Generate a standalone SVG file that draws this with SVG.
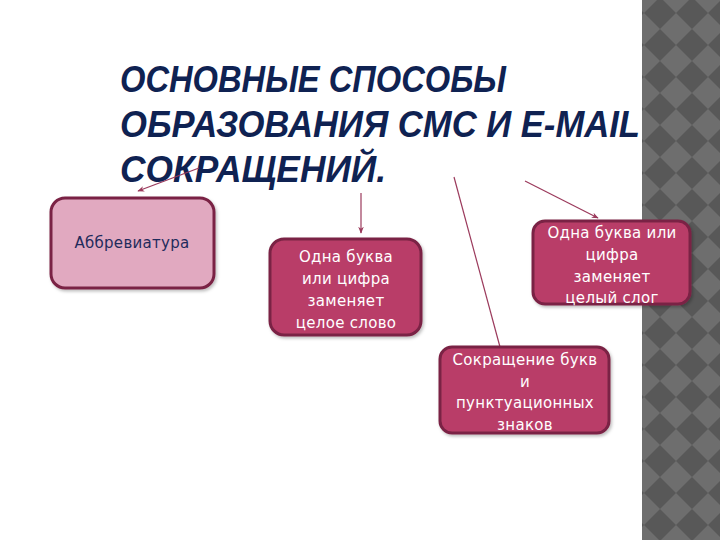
<svg xmlns="http://www.w3.org/2000/svg" width="720" height="540" viewBox="0 0 720 540">
<defs>
<pattern id="chk" patternUnits="userSpaceOnUse" x="644" y="-3" width="32" height="32">
<rect width="32" height="32" fill="#6e6e6e"/>
<path d="M16 0 L32 16 L16 32 L0 16 Z" fill="#585858"/>
</pattern>
<marker id="ah" viewBox="0 0 10 10" refX="9" refY="5" markerWidth="7" markerHeight="7" orient="auto" markerUnits="userSpaceOnUse">
<path d="M0 1 L10 5 L0 9 L3 5 Z" fill="#9b3a5c"/>
</marker>
<filter id="sh" x="-10%" y="-10%" width="130%" height="130%">
<feDropShadow dx="1.5" dy="2" stdDeviation="1.5" flood-color="#000" flood-opacity="0.25"/>
</filter>
</defs>
<style>
.title{font-family:"Liberation Sans",Arial,sans-serif;font-weight:bold;font-style:italic;font-size:37px;fill:#0f2252}
.box{stroke:#7a2444;stroke-width:3;filter:url(#sh)}
.dark{fill:#b93c68}
.light{fill:#e1a9c0}
.wt{font-family:"DejaVu Sans",sans-serif;font-size:15px;fill:#ffffff;text-anchor:middle;letter-spacing:0.3px}
.nt{font-family:"DejaVu Sans",sans-serif;font-size:15px;fill:#1f2b5c;text-anchor:middle;letter-spacing:0.3px}
.conn{stroke:#9b3a5c;stroke-width:1.2;fill:none}
</style>
<rect width="720" height="540" fill="#ffffff"/>
<rect x="642" y="0" width="78" height="540" fill="url(#chk)"/>
<g id="title">
<text class="title" x="120" y="92" textLength="386" lengthAdjust="spacingAndGlyphs">ОСНОВНЫЕ СПОСОБЫ</text>
<text class="title" x="120" y="137" textLength="520" lengthAdjust="spacingAndGlyphs">ОБРАЗОВАНИЯ СМС И E-MAIL</text>
<text class="title" x="120" y="182" textLength="266" lengthAdjust="spacingAndGlyphs">СОКРАЩЕНИЙ.</text>
</g>
<g id="connectors">
<line class="conn" x1="199" y1="168" x2="138" y2="191" marker-end="url(#ah)"/>
<line class="conn" x1="361" y1="193" x2="361" y2="233" marker-end="url(#ah)"/>
<line class="conn" x1="454" y1="177" x2="500" y2="347"/>
<line class="conn" x1="525" y1="181" x2="598" y2="218" marker-end="url(#ah)"/>
</g>
<g id="node-abbr">
<rect class="box light" x="51" y="198" width="163" height="90" rx="14"/>
<text class="nt" x="132" y="248">Аббревиатура</text>
</g>
<g id="node-word">
<rect class="box dark" x="270" y="239" width="151" height="96" rx="14"/>
<text class="wt" x="346" y="262">Одна буква</text>
<text class="wt" x="346" y="284">или цифра</text>
<text class="wt" x="346" y="306">заменяет</text>
<text class="wt" x="346" y="328">целое слово</text>
</g>
<g id="node-syllable">
<rect class="box dark" x="533" y="221" width="157" height="83" rx="12"/>
<text class="wt" x="612" y="238">Одна буква или</text>
<text class="wt" x="612" y="260">цифра</text>
<text class="wt" x="612" y="282">заменяет</text>
<text class="wt" x="612" y="303">целый слог</text>
</g>
<g id="node-punct">
<rect class="box dark" x="440" y="347" width="169" height="86" rx="12"/>
<text class="wt" x="525" y="365">Сокращение букв</text>
<text class="wt" x="525" y="387">и</text>
<text class="wt" x="525" y="408">пунктуационных</text>
<text class="wt" x="525" y="430">знаков</text>
</g>
</svg>
